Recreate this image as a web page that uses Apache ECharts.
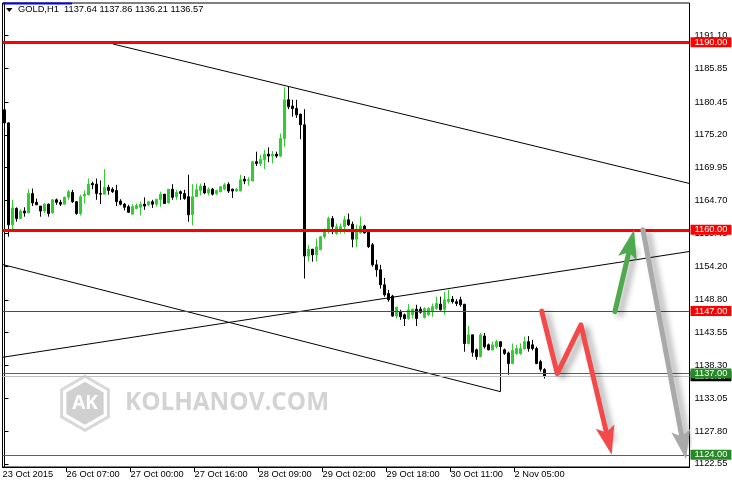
<!DOCTYPE html>
<html>
<head>
<meta charset="utf-8">
<script src="https://cdn.jsdelivr.net/npm/echarts@6.0.0/dist/echarts.min.js"></script>
<style>
html,body{margin:0;padding:0;background:#fff;}
#c{width:732px;height:485px;}
</style>
</head>
<body>
<div id="c"></div>
<script>
// ---------- DATA ----------
const symbolName = 'GOLD,H1';
// hourly candles: [open, high, low, close]
const candles = [
 [1179.2,1179.4,1176.3,1177.1],[1177.1,1177.2,1158.9,1160.8],[1160.8,1164.8,1159.7,1163.5],[1163.4,1163.6,1161.3,1161.8],
 [1161.8,1163.3,1161.7,1163.0],[1163.0,1163.6,1162.1,1162.7],[1162.7,1166.5,1162.7,1165.8],[1165.8,1166.6,1163.8,1164.3],
 [1164.4,1165.0,1164.0,1164.0],[1163.8,1163.8,1162.1,1163.0],[1163.0,1164.3,1162.7,1164.1],[1164.1,1164.2,1162.1,1162.6],
 [1162.7,1164.9,1162.6,1164.8],[1164.8,1165.0,1164.0,1164.4],[1164.4,1164.8,1163.8,1164.1],[1164.1,1165.3,1164.1,1165.2],
 [1165.2,1166.4,1164.8,1166.1],[1166.0,1166.4,1164.3,1164.5],[1164.5,1164.5,1162.4,1162.6],[1162.6,1165.6,1162.3,1165.3],
 [1165.4,1166.3,1164.2,1165.7],[1165.6,1168.2,1165.5,1167.3],[1167.4,1167.7,1166.5,1167.2],[1167.3,1168.2,1164.8,1165.8],
 [1165.8,1167.9,1164.1,1165.7],[1165.7,1169.7,1165.7,1166.8],[1166.8,1167.2,1165.6,1166.3],[1166.5,1166.8,1165.9,1166.1],
 [1166.3,1167.2,1163.8,1164.5],[1164.6,1164.9,1163.9,1164.1],[1164.1,1164.3,1163.1,1163.6],[1163.7,1164.0,1162.7,1162.8],
 [1162.5,1164.1,1162.5,1163.7],[1163.4,1164.2,1163.3,1163.9],[1163.6,1164.5,1162.3,1164.1],[1164.1,1165.2,1163.2,1163.8],
 [1164.0,1164.6,1163.8,1164.5],[1164.5,1164.8,1163.5,1164.1],[1164.1,1164.9,1163.7,1164.9],[1164.8,1166.1,1163.7,1165.7],
 [1165.7,1165.7,1164.2,1164.2],[1164.3,1166.5,1164.2,1166.5],[1166.5,1167.3,1164.8,1165.2],[1165.3,1166.4,1164.8,1166.0],
 [1166.1,1166.3,1164.8,1165.8],[1165.8,1166.4,1164.8,1165.0],[1165.3,1168.8,1161.3,1162.4],[1162.4,1167.3,1160.7,1165.3],
 [1165.3,1167.4,1165.3,1166.4],[1166.3,1167.4,1165.5,1167.0],[1167.0,1167.5,1165.7,1165.9],[1165.9,1166.8,1165.5,1166.5],
 [1166.5,1166.7,1165.5,1165.7],[1165.8,1166.4,1165.6,1166.3],[1166.1,1167.0,1166.0,1166.9],[1166.5,1167.5,1166.3,1167.2],
 [1167.3,1167.6,1165.9,1166.2],[1166.5,1166.6,1165.1,1166.2],[1166.2,1166.7,1166.1,1166.5],[1166.2,1168.8,1166.2,1168.0],
 [1168.1,1168.6,1167.3,1167.8],[1167.9,1168.4,1167.1,1168.0],[1167.8,1171.0,1167.8,1170.9],[1170.9,1172.5,1170.2,1170.6],
 [1170.6,1172.0,1170.2,1171.3],[1171.2,1172.8,1169.7,1172.1],[1172.1,1173.2,1170.8,1171.8],[1171.8,1172.6,1170.6,1172.1],
 [1172.1,1172.5,1171.5,1171.8],[1171.8,1175.4,1171.6,1174.6],[1174.6,1182.8,1173.3,1180.8],[1180.8,1183.0,1179.3,1179.7],
 [1179.8,1180.8,1178.1,1179.4],[1179.4,1180.8,1177.9,1178.4],[1178.5,1178.6,1174.5,1176.8],[1176.8,1179.3,1152.2,1155.8],
 [1155.8,1157.6,1154.9,1156.9],[1156.9,1156.9,1154.9,1156.0],[1156.0,1158.6,1154.9,1157.3],[1156.8,1159.0,1156.8,1158.9],
 [1158.9,1160.2,1158.6,1159.7],[1159.7,1162.1,1159.4,1161.8],[1161.8,1162.2,1159.3,1160.5],[1159.4,1161.0,1159.2,1160.5],
 [1160.1,1161.0,1159.4,1160.5],[1160.5,1162.2,1159.4,1161.6],[1161.6,1162.6,1160.6,1160.8],[1160.9,1161.3,1157.2,1158.5],
 [1158.5,1160.8,1157.2,1159.7],[1159.5,1162.1,1159.4,1160.6],[1160.6,1160.8,1159.4,1159.5],[1159.7,1160.1,1157.1,1157.3],
 [1157.6,1157.9,1154.1,1154.4],[1154.4,1155.2,1152.5,1153.6],[1153.6,1154.4,1150.6,1151.2],[1151.2,1152.3,1149.3,1149.6],
 [1149.8,1150.4,1148.5,1148.8],[1149.4,1149.6,1146.1,1146.2],[1146.2,1147.7,1145.8,1147.6],[1146.9,1147.2,1145.6,1146.1],
 [1146.4,1146.6,1144.6,1145.8],[1145.8,1148.1,1145.6,1147.2],[1146.4,1147.4,1145.8,1147.3],[1147.3,1148.0,1144.6,1145.8],
 [1147.3,1147.7,1146.6,1146.8],[1146.0,1147.6,1145.8,1147.4],[1146.4,1147.6,1146.2,1147.4],[1146.9,1148.2,1146.1,1147.7],
 [1147.4,1149.3,1147.2,1148.2],[1148.1,1149.3,1147.1,1147.2],[1147.3,1150.1,1146.4,1148.8],[1148.5,1150.4,1148.2,1148.9],
 [1148.9,1149.4,1148.2,1148.5],[1148.5,1148.9,1147.8,1148.2],[1148.8,1149.3,1147.7,1148.0],[1148.1,1148.1,1140.5,1141.8],
 [1141.8,1144.6,1141.7,1143.2],[1143.2,1143.2,1139.7,1140.4],[1140.8,1141.0,1139.2,1139.7],[1139.7,1143.5,1139.6,1143.2],
 [1143.0,1143.5,1141.0,1141.3],[1141.6,1141.8,1140.7,1140.8],[1140.8,1142.1,1140.7,1141.6],[1141.3,1142.4,1141.0,1142.1],
 [1142.1,1142.1,1134.1,1141.3],[1140.8,1141.0,1140.0,1140.2],[1140.3,1140.5,1136.8,1138.6],[1138.6,1141.8,1138.5,1140.7],
 [1140.2,1141.6,1140.0,1141.0],[1140.2,1141.8,1140.0,1141.0],[1141.0,1142.9,1140.8,1142.1],[1142.1,1143.0,1140.5,1141.0],
 [1141.6,1142.4,1140.7,1141.0],[1141.0,1141.3,1138.5,1138.6],[1138.9,1139.2,1137.3,1137.7],[1137.64,1137.86,1136.21,1136.57]
];
const priceTicks = [1191.10,1185.85,1180.45,1175.20,1169.95,1164.70,1159.45,1154.20,1148.80,1143.55,1138.30,1133.05,1127.80,1122.55];
const timeTickIndex = [-0.5,15.5,31.5,47.5,63.5,79.5,95.5,111.5,127.5];
const timeTickLabels = ['23 Oct 2015','26 Oct 07:00','27 Oct 00:00','27 Oct 16:00','28 Oct 09:00','29 Oct 02:00','29 Oct 18:00','30 Oct 11:00','2 Nov 05:00'];
const resistanceLevels = [1190.00, 1160.00];
const entryLevel = [1147.00];
const targetLevels = [1137.00, 1124.00];
// trend lines: [barIndex, price]
const upperTrend = [[27.1,1189.73],[171.25,1167.41]];
const lowerTrend = [[-0.5,1154.45],[124,1134.10]];
const risingTrend = [[-0.5,1139.60],[171.25,1156.53]];
// forecast arrows: [barIndex, price]
const redPath = [[134.3,1147.0],[138.2,1137.0],[144.1,1144.8],[151.8,1124.0]];
const greenPath = [[152.6,1146.9],[157.4,1160.0]];
const grayPath = [[159.6,1160.0],[170.4,1123.3]];

// ---------- CHART ----------
const FONT = '"Liberation Sans", Arial, sans-serif';
const FS = 9.3;
const last = candles[candles.length - 1];
const header = symbolName + '  ' + last.map(v => v.toFixed(2)).join(' ');
const candleData = candles.map((c, i) => [i, c[0], c[3], c[2], c[1]]);
const GREEN_LBL = '#258A25';

function levelItem(price, color, width, bg) {
  return {
    yAxis: price,
    lineStyle: {color: color, width: width, type: 'solid'},
    label: {
      show: true, position: 'end', distance: 1,
      formatter: price.toFixed(2),
      backgroundColor: bg, color: '#fff',
      padding: [0, 4, 0, 4], lineHeight: 10,
      fontSize: FS, fontFamily: FONT
    }
  };
}

function hexPoints(cx, cy, r) {
  const pts = [];
  for (let k = 0; k < 6; k++) {
    const a = (-90 + 60 * k) * Math.PI / 180;
    pts.push([cx + r * Math.cos(a), cy + r * Math.sin(a)]);
  }
  return pts;
}

function trendSeries(pts) {
  return {
    type: 'line', data: pts, showSymbol: false, symbol: 'none', silent: true, z: 4,
    lineStyle: {color: '#000', width: 1}, clip: true
  };
}

const chart = echarts.init(document.getElementById('c'), null, {renderer: 'canvas'});

const baseOption = {
  animation: false,
  backgroundColor: '#fff',
  title: {
    text: header, left: 18, top: 5, padding: 0,
    textStyle: {fontSize: FS, fontWeight: 'normal', color: '#000', fontFamily: FONT}
  },
  grid: {
    left: 2.5, right: 42.5, top: 3, bottom: 18,
    show: true, borderColor: '#000', borderWidth: 1,
    containLabel: false, outerBoundsMode: 'none'
  },
  xAxis: {
    type: 'value', min: -0.5, max: 171.25,
    axisLine: {show: true, lineStyle: {color: '#000', width: 1}},
    axisTick: {show: true, inside: false, length: 5, customValues: timeTickIndex.slice(1), lineStyle: {color: '#000', width: 1}},
    axisLabel: {
      show: true, customValues: timeTickIndex, align: 'left', margin: 3,
      fontSize: FS, color: '#000', fontFamily: FONT,
      formatter: function (v) { const k = timeTickIndex.indexOf(v); return k >= 0 ? timeTickLabels[k] : ''; }
    },
    splitLine: {show: false}
  },
  yAxis: {
    type: 'value', position: 'right', min: 1122.048, max: 1196.29, scale: true,
    axisLine: {show: true, lineStyle: {color: '#000', width: 1}},
    axisTick: {show: true, inside: false, length: 4, customValues: priceTicks, lineStyle: {color: '#000', width: 1}},
    axisLabel: {
      show: true, customValues: priceTicks, margin: 5,
      fontSize: FS, color: '#000', fontFamily: FONT,
      formatter: function (v) { return Number(v).toFixed(2); }
    },
    splitLine: {show: false}
  },
  graphic: [
    {type: 'rect', shape: {x: 3, y: 2.5, width: 69, height: 2}, style: {fill: '#0000FF'}, z: 100},
    {type: 'polygon', shape: {points: [[6, 8], [12.5, 8], [9.25, 12]]}, style: {fill: '#000'}, z: 100},
    {type: 'polygon', shape: {points: hexPoints(85, 403.3, 27)}, style: {fill: 'none', stroke: '#D8D8D8', lineWidth: 3}, z: 0},
    {type: 'polygon', shape: {points: hexPoints(85, 403.3, 21.5)}, style: {fill: '#D0D0D0'}, z: 0},
    {type: 'text', x: 85, y: 404, style: {text: 'AK', align: 'center', verticalAlign: 'middle', fill: '#fff', font: 'bold 19px "Open Sans", sans-serif'}, z: 1},
    {type: 'text', x: 125, y: 403.5, style: {text: 'KOLHANOV.COM', align: 'left', verticalAlign: 'middle', fill: '#D3D3D3', font: 'bold 24.3px "Open Sans", sans-serif'}, z: 1}
  ],
  series: [
    {
      type: 'candlestick', data: candleData, encode: {x: 0, y: [1, 2, 3, 4]},
      barWidth: 2, z: 2, silent: true,
      itemStyle: {color: '#32CD32', color0: '#000000', borderColor: '#32CD32', borderColor0: '#000000', borderWidth: 1}
    },
    trendSeries(upperTrend),
    trendSeries(lowerTrend),
    trendSeries(risingTrend),
    {
      type: 'line', data: [], z: 3, silent: true,
      markLine: {
        silent: true, symbol: ['none', 'none'], animation: false,
        data: [levelItem(last[3], '#C0C0C0', 1, '#000')]
      }
    },
    {
      type: 'line', data: [], z: 5, silent: true,
      markLine: {
        silent: true, symbol: ['none', 'none'], animation: false,
        data: []
          .concat(resistanceLevels.map(p => levelItem(p, '#FF0000', 3, '#FF0000')))
          .concat(entryLevel.map(p => levelItem(p, '#FF0000', 1, '#FF0000')))
          .concat(targetLevels.map(p => levelItem(p, GREEN_LBL, 1, GREEN_LBL)))
      }
    }
  ]
};

chart.setOption(baseOption);

// arrows: shaft ends a little before the tip; the head is drawn as an end symbol
const HEAD = 'path://M-30,-30M30,30M0,0L9.5,29L0,23L-9.5,29Z';
function splitArrow(path) {
  const px = path.map(p => chart.convertToPixel({gridIndex: 0}, p));
  const a = px[px.length - 2], b = px[px.length - 1];
  const dx = b[0] - a[0], dy = b[1] - a[1];
  const len = Math.sqrt(dx * dx + dy * dy);
  const back = 18;
  const basePx = [b[0] - dx / len * back, b[1] - dy / len * back];
  const base = chart.convertFromPixel({gridIndex: 0}, basePx);
  const shaft = path.slice(0, path.length - 1).concat([base]);
  return {shaft: shaft, head: [base, path[path.length - 1]]};
}
function arrowSeries(path, color) {
  const s = splitArrow(path);
  const shadow = {shadowColor: 'rgba(0,0,0,0.35)', shadowBlur: 6, shadowOffsetX: 5, shadowOffsetY: 3};
  return [
    {
      type: 'lines', coordinateSystem: 'cartesian2d', polyline: true, z: 6, silent: true,
      data: [{coords: s.shaft}],
      lineStyle: Object.assign({color: color, width: 5, opacity: 1, cap: 'round', join: 'round', curveness: 0}, shadow)
    },
    {
      type: 'lines', coordinateSystem: 'cartesian2d', polyline: false, z: 6, silent: true,
      symbol: ['none', HEAD], symbolSize: [1, 60],
      data: [{coords: s.head}],
      lineStyle: {color: color, width: 0, opacity: 1, curveness: 0}
    }
  ];
}

const arrowList = [].concat(
  arrowSeries(redPath, '#F24A4A'),
  arrowSeries(greenPath, '#4FA94F'),
  arrowSeries(grayPath, '#A9A9A9')
);
chart.setOption({series: baseOption.series.concat(arrowList)});
</script>
</body>
</html>
